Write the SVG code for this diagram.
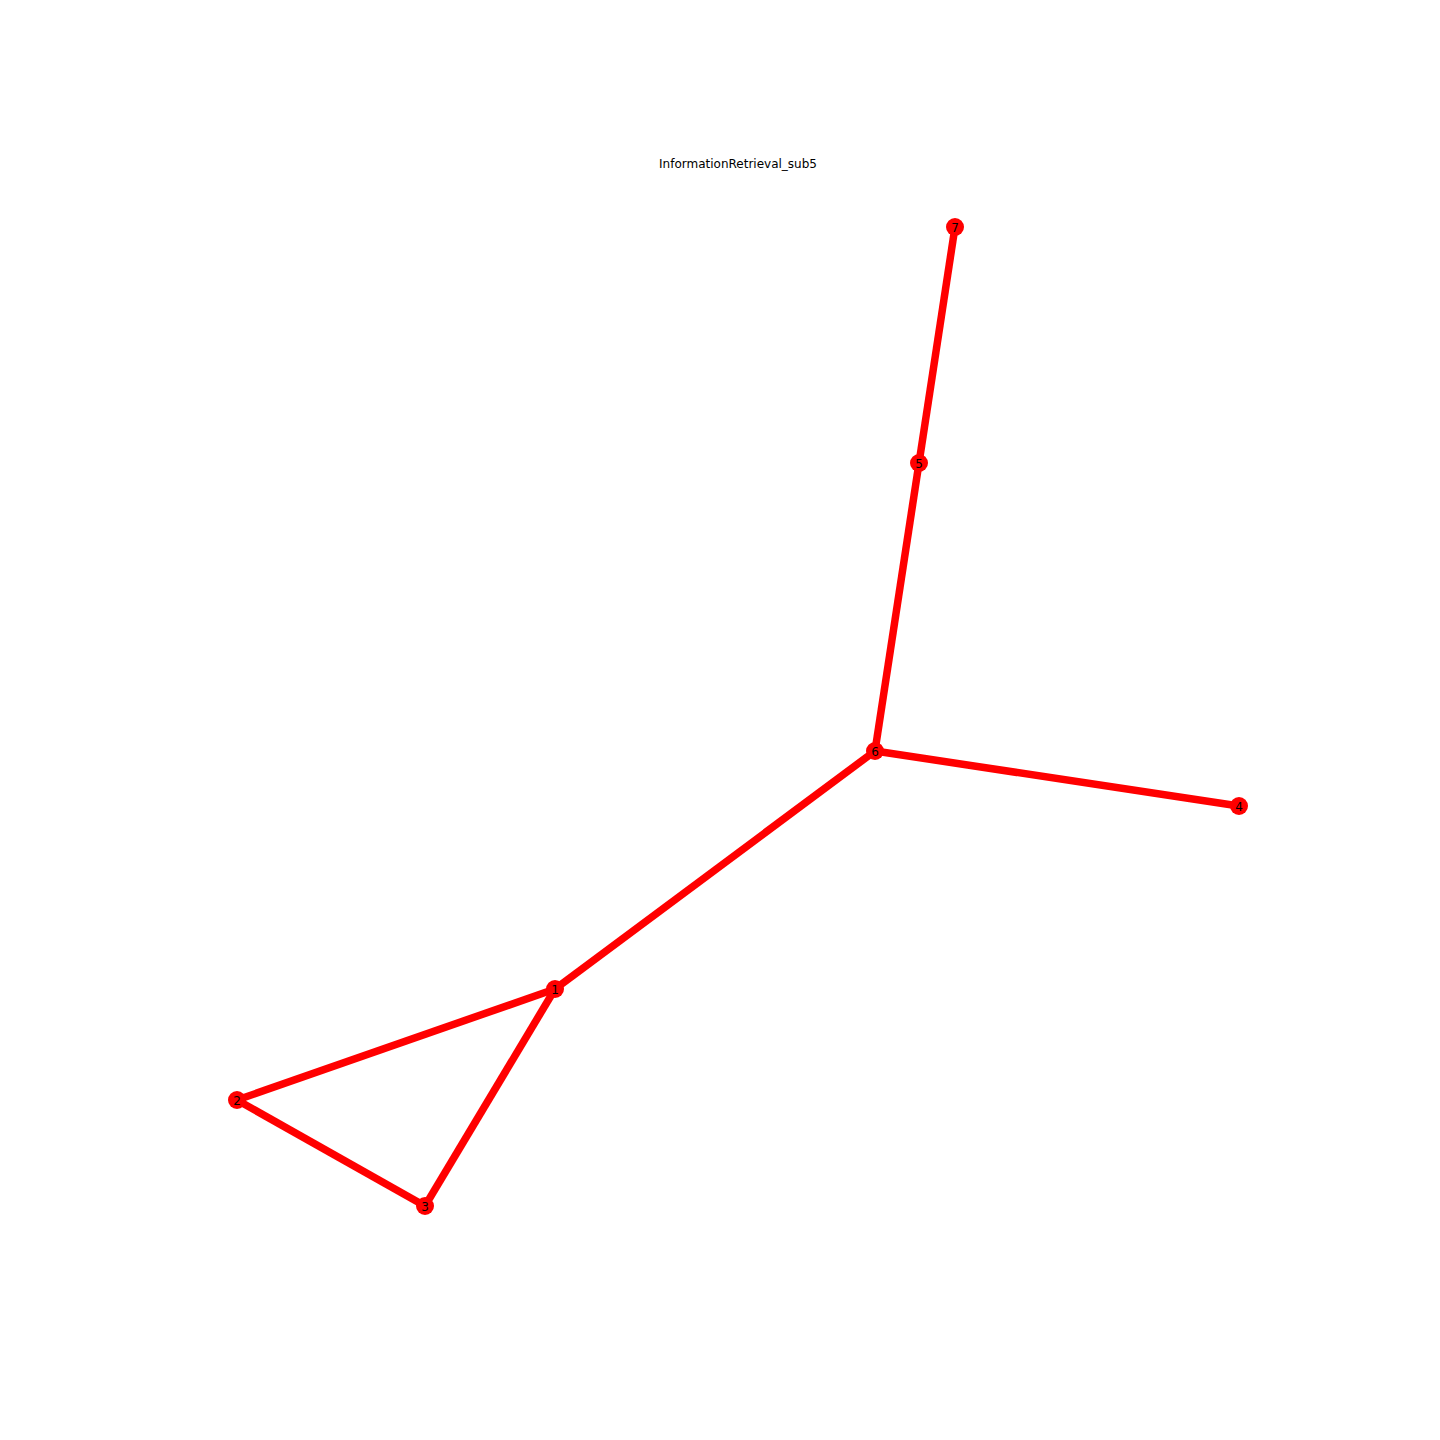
<svg xmlns="http://www.w3.org/2000/svg" width="1440" height="1440" viewBox="0 0 1440 1440">
<style>
.e{stroke:#ff0000;stroke-width:7.5;fill:none}
.n{fill:#ff0000}
.l{font-family:"DejaVu Sans",sans-serif;font-size:12px;text-anchor:middle;fill:#000}
</style>
<rect width="1440" height="1440" fill="#fff"/>
<text class="l" x="738" y="168">InformationRetrieval_sub5</text>
<g id="edges">
<line class="e" x1="955" y1="227" x2="919" y2="463"/>
<line class="e" x1="919" y1="463" x2="875" y2="751"/>
<line class="e" x1="875" y1="751" x2="1239" y2="806"/>
<line class="e" x1="875" y1="751" x2="555" y2="989"/>
<line class="e" x1="555" y1="989" x2="237" y2="1100"/>
<line class="e" x1="555" y1="989" x2="425" y2="1206"/>
<line class="e" x1="237" y1="1100" x2="425" y2="1206"/>
</g>
<g id="n7"><circle class="n" cx="955" cy="227" r="9"/><text class="l" x="955" y="231.5">7</text></g>
<g id="n5"><circle class="n" cx="919" cy="463" r="9"/><text class="l" x="919" y="467.5">5</text></g>
<g id="n6"><circle class="n" cx="875" cy="751" r="9"/><text class="l" x="875" y="755.5">6</text></g>
<g id="n4"><circle class="n" cx="1239" cy="806" r="9"/><text class="l" x="1239" y="810.5">4</text></g>
<g id="n1"><circle class="n" cx="555" cy="989" r="9"/><text class="l" x="555" y="993.5">1</text></g>
<g id="n2"><circle class="n" cx="237" cy="1100" r="9"/><text class="l" x="237" y="1104.5">2</text></g>
<g id="n3"><circle class="n" cx="425" cy="1206" r="9"/><text class="l" x="425" y="1210.5">3</text></g>
</svg>
